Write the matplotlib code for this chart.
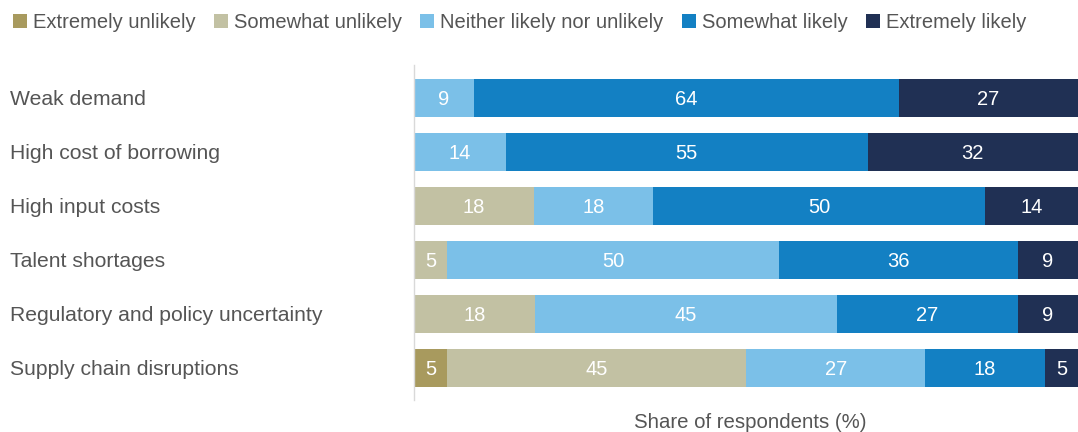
import numpy as np
import matplotlib.pyplot as plt
from matplotlib.patches import Patch
from matplotlib.transforms import blended_transform_factory

plt.rcParams['font.family'] = ['Liberation Sans', 'DejaVu Sans']

# data
categories = ['Weak demand', 'High cost of borrowing', 'High input costs',
              'Talent shortages', 'Regulatory and policy uncertainty',
              'Supply chain disruptions']
responses = ['Extremely unlikely', 'Somewhat unlikely', 'Neither likely nor unlikely',
             'Somewhat likely', 'Extremely likely']
extremely_unlikely = [0, 0, 0, 0, 0, 5]
somewhat_unlikely = [0, 0, 18, 5, 18, 45]
neither = [9, 14, 18, 50, 45, 27]
somewhat_likely = [64, 55, 50, 36, 27, 18]
extremely_likely = [27, 32, 14, 9, 9, 5]

colors = ['#A89A5E', '#C2C1A3', '#7BC0E8', '#1380C3', '#203054']
text_gray = '#555555'

values = np.array([extremely_unlikely, somewhat_unlikely, neither,
                   somewhat_likely, extremely_likely], dtype=float)
# bars fill the full width (row totals are 99-101 because of rounding)
shares = values / values.sum(axis=0) * 100

fig = plt.figure(figsize=(10.78, 4.32), dpi=100)
ax = fig.add_axes([414 / 1078, 1 - 400 / 432, 664 / 1078, 335 / 432])

y = np.arange(len(categories))
left = np.zeros(len(categories))
for i in range(len(responses)):
    ax.barh(y, shares[i], left=left, height=0.7, color=colors[i], linewidth=0)
    for j in range(len(categories)):
        if values[i, j] > 0:
            ax.text(left[j] + shares[i, j] / 2, y[j], f'{int(values[i, j])}',
                    ha='center', va='center_baseline', color='white', fontsize=14.5)
    left += shares[i]

ax.set_xlim(0, 100)
ax.set_ylim(5.6, -0.61)
ax.set_xticks([])
ax.set_yticks([])
for s in ['top', 'right', 'bottom']:
    ax.spines[s].set_visible(False)
ax.spines['left'].set_color('#d9d9d9')
ax.spines['left'].set_linewidth(1)

# category labels on the far left
trans = blended_transform_factory(fig.transFigure, ax.transData)
for j, cat in enumerate(categories):
    ax.text(10 / 1078, y[j], cat, transform=trans, ha='left', va='center_baseline',
            color=text_gray, fontsize=15.2)

fig.text(750 / 1078, 1 - 420 / 432, 'Share of respondents (%)', ha='center',
         va='center_baseline', color=text_gray, fontsize=14.7)

handles = [Patch(facecolor=c, edgecolor='none') for c in colors]
fig.legend(handles, responses, loc='upper left', bbox_to_anchor=(0.0, 1.0),
           ncol=5, frameon=False, fontsize=14.5, handlelength=0.7,
           handleheight=0.7, handletextpad=0.3, columnspacing=0.9,
           labelcolor=text_gray, borderaxespad=0.25)

fig.savefig('out.png', dpi=100)
